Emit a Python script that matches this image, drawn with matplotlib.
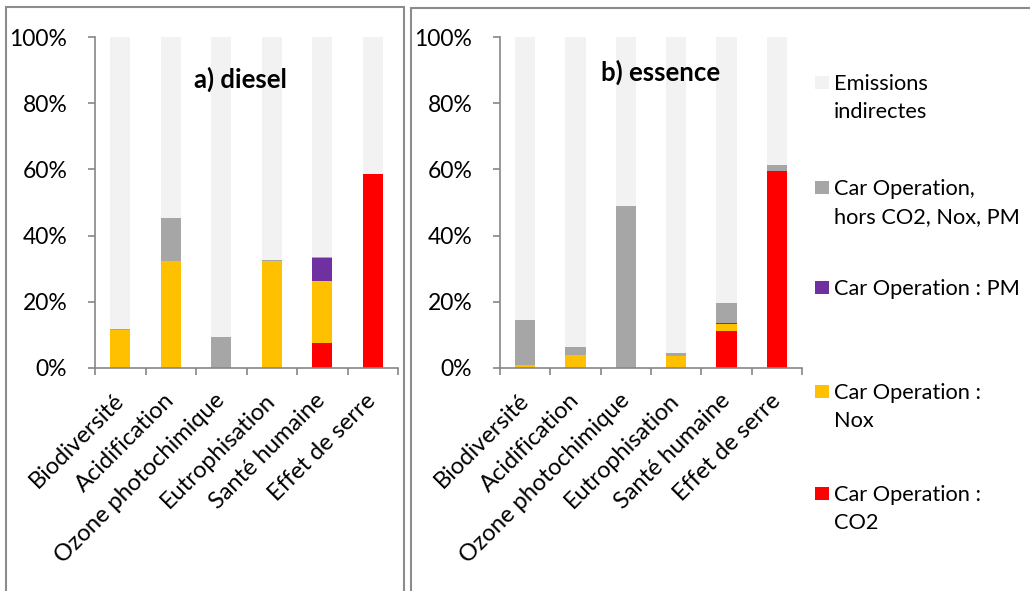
import numpy as np
import matplotlib.pyplot as plt
from matplotlib.patches import Rectangle
from matplotlib.ticker import PercentFormatter

plt.rcParams['font.family'] = ['Lato', 'DejaVu Sans']

categories = ['Biodiversité', 'Acidification', 'Ozone photochimique',
              'Eutrophisation', 'Santé humaine', 'Effet de serre']

# values in %
diesel_co2 = [0, 0, 0, 0, 7.7, 58.5]
diesel_nox = [11.4, 32.4, 0, 32.4, 18.7, 0]
diesel_pm = [0, 0, 0, 0, 6.9, 0]
diesel_other = [0.4, 13.0, 9.4, 0.3, 0.3, 0.2]
diesel_indirect = [88.2, 54.6, 90.6, 67.3, 66.4, 41.3]

essence_co2 = [0, 0, 0, 0, 11.2, 59.5]
essence_nox = [0.8, 4.0, 0, 3.5, 2.0, 0]
essence_pm = [0, 0, 0, 0, 0.3, 0]
essence_other = [13.8, 2.2, 48.8, 1.1, 6.0, 1.7]
essence_indirect = [85.4, 93.8, 51.2, 95.4, 80.5, 38.8]

series_names = ['Car Operation :\nCO2', 'Car Operation :\nNox', 'Car Operation : PM',
                'Car Operation,\nhors CO2, Nox, PM', 'Emissions\nindirectes']
colors = ['#FF0000', '#FFC000', '#7030A0', '#A6A6A6', '#F2F2F2']

W, H = 1030, 591
fig = plt.figure(figsize=(W / 100, H / 100), dpi=100)

# panel borders
border = '#8C8C8C'
fig.patches.append(Rectangle((6 / W, -0.1), (404 - 6) / W, 1.1 - 7 / H,
                             transform=fig.transFigure, fill=False,
                             edgecolor=border, lw=1.5))
fig.patches.append(Rectangle((411 / W, -0.1), 1.0, 1.1 - 8 / H,
                             transform=fig.transFigure, fill=False,
                             edgecolor=border, lw=1.5))

ax_a = fig.add_axes([95 / W, (H - 368) / H, 303 / W, 331 / H])
ax_b = fig.add_axes([500 / W, (H - 368) / H, 302 / W, 331 / H])

x = np.arange(len(categories))
panels = [
    (ax_a, [diesel_co2, diesel_nox, diesel_pm, diesel_other, diesel_indirect],
     'a) diesel', 0.479, 0.873),
    (ax_b, [essence_co2, essence_nox, essence_pm, essence_other, essence_indirect],
     'b) essence', 0.533, 0.894),
]

axis_col = '#868686'
for ax, stack, title, tx, ty in panels:
    bottom = np.zeros(len(categories))
    for vals, col in zip(stack, colors):
        ax.bar(x, vals, width=0.4, bottom=bottom, color=col, linewidth=0, zorder=2)
        bottom += np.array(vals)
    ax.set_xlim(-0.5, len(categories) - 0.5)
    ax.set_ylim(0, 100)
    ax.set_yticks(np.arange(0, 101, 20))
    ax.yaxis.set_major_formatter(PercentFormatter(decimals=0))
    ax.set_xticks(np.arange(-0.5, len(categories), 1))
    ax.set_xticklabels([])
    ax.set_xticks(x, minor=True)
    ax.set_xticklabels(categories, minor=True, rotation=45, ha='right',
                       va='center', rotation_mode='anchor', fontsize=17)
    ax.tick_params(axis='x', which='minor', length=0, pad=21)
    ax.tick_params(axis='x', which='major', length=5, color=axis_col, width=1.2)
    ax.tick_params(axis='y', length=5, color=axis_col, width=1.2,
                   labelsize=16.5, pad=15)
    for s in ['top', 'right']:
        ax.spines[s].set_visible(False)
    for s in ['left', 'bottom']:
        ax.spines[s].set_color(axis_col)
        ax.spines[s].set_linewidth(1.2)
    ax.text(tx, ty, title, transform=ax.transAxes, ha='center', va='center',
            fontsize=18.5, fontweight='bold')

# legend, drawn by hand so the square sits on the first text line
legend_rows = [82, 187, 287, 391, 493]
for name, col, yy in zip(series_names[::-1], colors[::-1], legend_rows):
    fig.patches.append(Rectangle((815 / W, 1 - (yy + 7) / H), 14 / W, 13 / H,
                                 transform=fig.transFigure, facecolor=col,
                                 edgecolor='none'))
    fig.text(834 / W, 1 - (yy - 8) / H, name, ha='left', va='top',
             fontsize=15.7, linespacing=1.5)

fig.savefig('out.png', dpi=100)
